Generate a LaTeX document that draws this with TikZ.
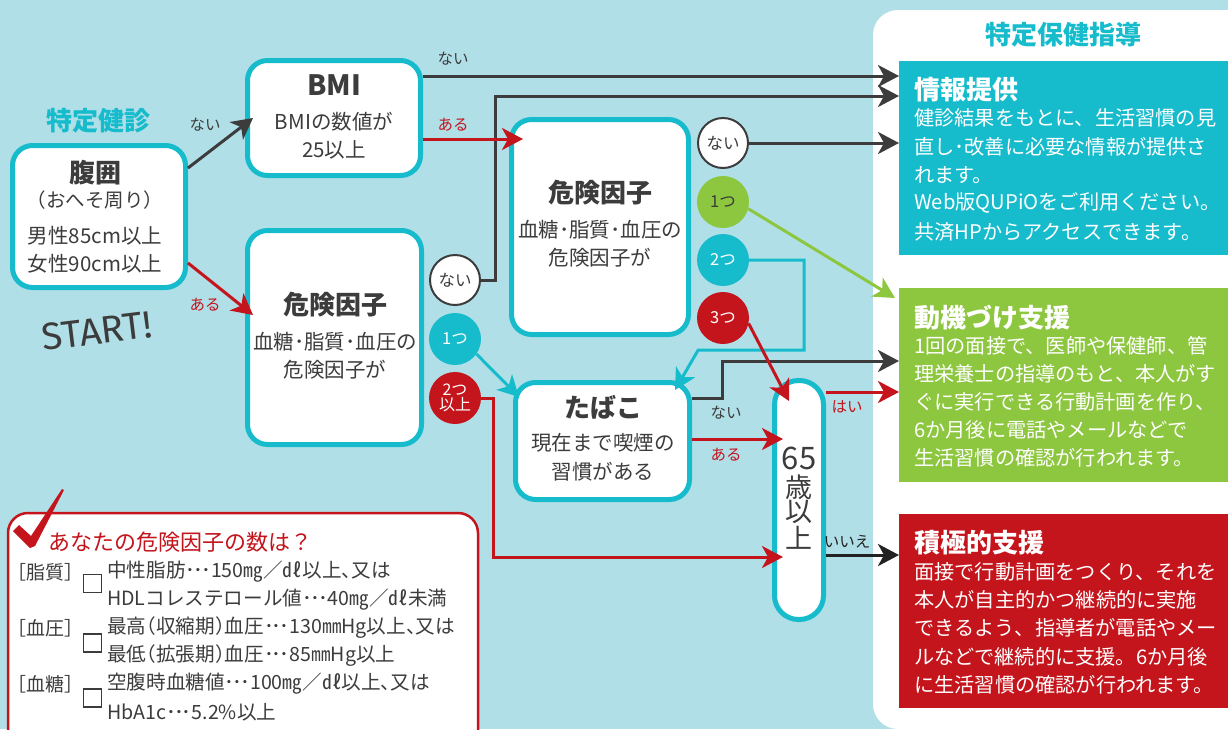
\documentclass[tikz,border=0pt]{standalone}
\usepackage{fontspec}
\setmainfont{Noto Sans CJK JP}
\newfontfamily\startfont{Fira Sans}
\usetikzlibrary{arrows.meta,calc}
\definecolor{bgblue}{HTML}{B1DFE7}
\definecolor{cteal}{HTML}{16BBCC}
\definecolor{cgreen}{HTML}{8DC63F}
\definecolor{cred}{HTML}{C4141C}
\definecolor{cdark}{HTML}{3C3C3C}
\definecolor{cblack}{HTML}{222222}
\newcommand{\myfs}[2]{\fontsize{#1}{#2}\selectfont}
\newcommand{\jdots}{･\kern-2pt･\kern-2pt･}
\begin{document}
\begin{tikzpicture}[x=1pt,y=-1pt,
  box/.style={draw=cteal,line width=5pt,fill=white,rounded corners=20pt,inner sep=0pt},
  arr/.style={line width=3pt,-{Stealth[length=21pt,width=22pt,inset=6pt]}},
  txt/.style={inner sep=0pt,text=cdark},
  circ/.style={circle,minimum size=52pt,inner sep=0pt,font=\myfs{16.5}{16.5}},
  lab/.style={inner sep=0pt,font=\myfs{15.5}{15.5}},
  rbox/.style={minimum width=340pt,minimum height=194pt,inner sep=0pt,anchor=north west},
  rline/.style={inner sep=0pt,text=white,anchor=west,font=\myfs{20.2}{20.2}},
  rtitle/.style={inner sep=0pt,text=white,anchor=west,font=\myfs{26}{26}\bfseries},
  btitle/.style={txt,font=\myfs{26}{26}\bfseries},
  bbody/.style={txt,font=\myfs{20.5}{20.5}},
  ckbox/.style={draw=cdark,line width=1.3pt,minimum size=18pt,inner sep=0pt},
  ctext/.style={txt,anchor=west,font=\myfs{19.6}{19.6}\addfontfeatures{RawFeature=+halt}},
  cbrack/.style={txt,anchor=west,font=\myfs{19}{19}},
]
\fill[bgblue] (0,0) rectangle (1228,729);
\useasboundingbox (0,0) rectangle (1228,729);
% right panel
\fill[white,rounded corners=25pt] (1260,10) -- (873,10) -- (873,729) -- (1260,729) -- cycle;
\node[txt,text=cteal,font=\myfs{26}{26}\bfseries] (t0) at (1063,35) {特定保健指導};

\node[rbox,fill=cteal] (info) at (899,61) {};
\node[rbox,fill=cgreen] (moti) at (899,288) {};
\node[rbox,fill=cred] (seki) at (899,514) {};

\node[rtitle] (infoT) at (914,90) {情報提供};
\node[rline] (infoB1) at (914,118) {健診結果をもとに、生活習慣の見};
\node[rline] (infoB2) at (914,147) {直し･改善に必要な情報が提供さ};
\node[rline] (infoB3) at (914,175) {れます。};
\node[rline] (infoB4) at (914,203) {Web版QUPiOをご利用ください。};
\node[rline] (infoB5) at (914,232) {共済HPからアクセスできます。};

\node[rtitle] (motiT) at (914,318) {動機づけ支援};
\node[rline] (motiB1) at (914,346) {1回の面接で、医師や保健師、管};
\node[rline] (motiB2) at (914,374) {理栄養士の指導のもと、本人がす};
\node[rline] (motiB3) at (914,402) {ぐに実行できる行動計画を作り、};
\node[rline] (motiB4) at (914,430) {6か月後に電話やメールなどで};
\node[rline] (motiB5) at (914,458) {生活習慣の確認が行われます。};

\node[rtitle] (sekiT) at (914,543) {積極的支援};
\node[rline] (sekiB1) at (914,572) {面接で行動計画をつくり、それを};
\node[rline] (sekiB2) at (914,600) {本人が自主的かつ継続的に実施};
\node[rline] (sekiB3) at (914,628) {できるよう、指導者が電話やメー};
\node[rline] (sekiB4) at (914,657) {ルなどで継続的に支援。6か月後};
\node[rline] (sekiB5) at (914,685) {に生活習慣の確認が行われます。};

% left title
\node[txt,text=cteal,font=\myfs{26}{26}\bfseries] (t1) at (98,121) {特定健診};

% boxes
\node[box,minimum width=173pt,minimum height=142pt] (fukui) at (99,216.5) {};
\node[box,minimum width=173pt,minimum height=115pt] (bmi) at (334,118) {};
\node[box,minimum width=174pt,minimum height=214pt] (riskL) at (334.5,337.5) {};
\node[box,minimum width=177pt,minimum height=215pt] (riskM) at (600,227) {};
\node[box,minimum width=174pt,minimum height=117pt] (tabako) at (602.5,441) {};
\node[box,rounded corners=24pt,minimum width=49pt,minimum height=239pt] (age) at (799,500) {};

% box texts
\node[btitle] (fukuiT) at (95,173) {腹囲};
\node[txt,font=\myfs{19.5}{19.5}] (fukuiA) at (95,200) {（おへそ周り）};
\node[bbody] (fukuiB) at (95,236) {男性85cm以上};
\node[bbody] (fukuiC) at (95,264) {女性90cm以上};

\node[txt,font=\myfs{28}{28}\bfseries] (bmiT) at (334,85) {BMI};
\node[bbody] (bmiA) at (334,122) {BMIの数値が};
\node[bbody] (bmiB) at (334,150) {25以上};

\node[btitle] (riskLT) at (335,305) {危険因子};
\node[bbody] (riskLA) at (335,342) {血糖･脂質･血圧の};
\node[bbody] (riskLB) at (335,370) {危険因子が};

\node[btitle] (riskMT) at (600,193) {危険因子};
\node[bbody] (riskMA) at (600,230) {血糖･脂質･血圧の};
\node[bbody] (riskMB) at (600,258) {危険因子が};

\node[btitle] (tabakoT) at (603,407) {たばこ};
\node[bbody] (tabakoA) at (603,443) {現在まで喫煙の};
\node[bbody] (tabakoB) at (603,472) {習慣がある};

\node[txt,font=\myfs{31}{31}] (ageA) at (799,458) {65};
\node[txt,font=\myfs{27}{27}] (ageB) at (799,487) {歳};
\node[txt,font=\myfs{27}{27}] (ageC) at (799,512) {以};
\node[txt,font=\myfs{27}{27}] (ageD) at (799,538) {上};

% circles
\node[circ,minimum size=50pt,fill=white,draw=cdark,line width=2pt,text=cdark] (cLn) at (455,280) {ない};
\node[circ,fill=cteal,text=white] (cL1) at (455,339) {1つ};
\node[circ,fill=cred,text=white,align=center,font=\myfs{16}{15}] (cL2) at (455,398) {2つ\\以上};
\node[circ,minimum size=50pt,fill=white,draw=cdark,line width=2pt,text=cdark] (cMn) at (723,143) {ない};
\node[circ,fill=cgreen,text=cdark] (cM1) at (723,202) {1つ};
\node[circ,fill=cteal,text=white] (cM2) at (723,260) {2つ};
\node[circ,fill=cred,text=white] (cM3) at (723,318) {3つ};

% connectors: dark
\draw[arr,cdark] (fukui.east |- 0,168) -- ($(bmi.west |- 0,118)+(8,0)$);
\draw[arr,cdark] (bmi.east |- 0,76) -- (info.west |- 0,76);
\draw[arr,cdark] (cLn.east) -- ++(14,0) |- (info.west |- 0,96);
\draw[arr,cdark] (cMn.east) -- (info.west |- cMn.east);
\draw[arr,cdark] (tabako.east |- 0,398) -- ++(30,0) |- (moti.west |- 0,361);
\draw[arr,cblack] (age.east |- 0,555) -- (seki.west |- 0,555);
% teal / green
\draw[arr,cteal] (cM2.east) -- ++(55,0) -- ++(0,90) -- ++(-106,0) -- ($(tabako.north east)+(-17,10)$);
\draw[arr,cteal] (cL1.-35) -- ($(tabako.north west)+(6,17)$);
\draw[arr,cgreen] (cM1.-15) -- ($(moti.north west)+(-4,10)$);
% red
\draw[arr,cred] (fukui.east |- 0,263) -- ($(riskL.west |- 0,315)+(8,0)$);
\draw[arr,cred] (bmi.east |- 0,139) -- ($(riskM.west |- 0,139)+(14,0)$);
\draw[arr,cred] (cM3.-12) -- ($(age.north west)+(17,23)$);
\draw[arr,cred] (cL2.east) -- ++(12,0) |- ($(age.west |- 0,557)+(11,0)$);
\draw[arr,cred] (tabako.east |- 0,439) -- ($(age.west |- 0,439)+(11,0)$);
\draw[arr,cred] (age.east |- 0,392) -- (moti.west |- 0,392);

% labels
\node[lab,text=cdark] (l1) at (205,125) {ない};
\node[lab,text=cred] (l2) at (205,305) {ある};
\node[lab,text=cdark] (l3) at (453,59) {ない};
\node[lab,text=cred] (l4) at (453,125) {ある};
\node[lab,text=cdark] (l5) at (726,413) {ない};
\node[lab,text=cred] (l6) at (726,455) {ある};
\node[lab,text=cred] (l7) at (847,407) {はい};
\node[lab,text=cblack] (l8) at (847,542) {いいえ};

% START
\node[inner sep=0pt,text=cdark,font=\startfont\myfs{38}{38},rotate=7] (start) at (97,331) {START!};

% checklist
\draw[cred,line width=2.5pt,fill=white,rounded corners=20pt] (8,513) rectangle (478,770);
\fill[cred] (13,531) -- (19,525) -- (31,536) -- (62,489) -- (64,490) -- (35,546) -- (30,548) -- cycle;
\node[txt,anchor=west,text=cred,font=\myfs{22}{22}] (ckT) at (48,542) {あなたの危険因子の数は？};

\node[cbrack] (br1) at (7,572) {［脂質］};
\node[cbrack] (br2) at (7,628) {［血圧］};
\node[cbrack] (br3) at (7,684) {［血糖］};
\node[ckbox] (cb1) at (92.5,583.5) {};
\node[ckbox] (cb2) at (92.5,643) {};
\node[ckbox] (cb3) at (92.5,698) {};
\node[ctext] (it1a) at (107,572) {中性脂肪\jdots 150㎎／㎗以上、又は};
\node[ctext] (it1b) at (107,600) {HDLコレステロール値\jdots 40㎎／㎗未満};
\node[ctext] (it2a) at (107,628) {最高（収縮期）血圧\jdots 130㎜Hg以上、又は};
\node[ctext] (it2b) at (107,656) {最低（拡張期）血圧\jdots 85㎜Hg以上};
\node[ctext] (it3a) at (107,684) {空腹時血糖値\jdots 100㎎／㎗以上、又は};
\node[ctext] (it3b) at (107,712) {HbA1c\jdots 5.2\%以上};
\end{tikzpicture}
\end{document}
